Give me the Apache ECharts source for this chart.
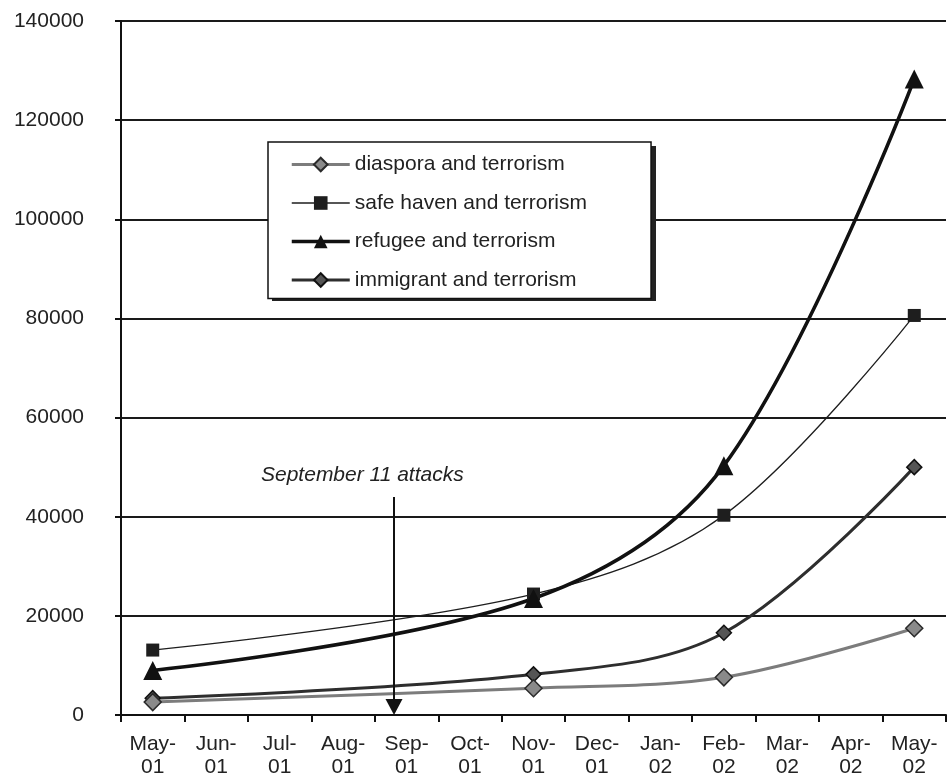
<!DOCTYPE html>
<html>
<head>
<meta charset="utf-8">
<script src="https://cdn.jsdelivr.net/npm/echarts@6/dist/echarts.min.js"></script>
<style>
  html, body { margin: 0; padding: 0; background: #fff; }
  #chart { width: 947px; height: 783px; }
</style>
</head>
<body>
<div id="chart"></div>
<script>
// month categories on the x axis
const months = ['May-01', 'Jun-01', 'Jul-01', 'Aug-01', 'Sep-01', 'Oct-01', 'Nov-01',
  'Dec-01', 'Jan-02', 'Feb-02', 'Mar-02', 'Apr-02', 'May-02'];

// months where counts were sampled
const sampleMonths = ['May-01', 'Nov-01', 'Feb-02', 'May-02'];

// counts per series
const diaspora = [2600, 5400, 7600, 17500];
const safeHaven = [13100, 24400, 40300, 80600];
const refugee = [9000, 23500, 50300, 128300];
const immigrant = [3400, 8200, 16600, 50000];

const FONT = 'Liberation Sans, Arial, sans-serif';

// spread the sampled values over the full month axis, gaps left null
function spread(vals) {
  return months.map(m => {
    const i = sampleMonths.indexOf(m);
    return i < 0 ? null : vals[i];
  });
}

function lineSeries(name, vals, opts) {
  return {
    name: name,
    type: 'line',
    data: spread(vals),
    connectNulls: true,
    smooth: 0.35,
    symbol: opts.symbol,
    symbolSize: opts.size,
    lineStyle: { color: opts.line, width: opts.width },
    itemStyle: {
      color: opts.fill,
      borderColor: opts.border,
      borderWidth: opts.borderWidth || 0
    },
    z: opts.z || 2
  };
}

const chart = echarts.init(document.getElementById('chart'));

// legend box geometry (shadow is drawn separately so the border is single)
const LEG = { left: 268, top: 142, width: 384, height: 155 };

const option = {
  animation: false,
  backgroundColor: '#fff',
  textStyle: { fontFamily: FONT },
  grid: { left: 121, right: 1, top: 21, bottom: 68 },
  legend: {
    orient: 'vertical',
    left: LEG.left,
    top: LEG.top,
    padding: [12, 64, 8, 22],
    itemWidth: 58,
    itemHeight: 17,
    itemGap: 17.5,
    z: 6,
    backgroundColor: '#fff',
    borderColor: '#111',
    borderWidth: 1.5,
    textStyle: { fontSize: 21, color: '#222', fontFamily: FONT },
    data: [
      { name: 'diaspora and terrorism', lineStyle: { width: 3 } },
      { name: 'safe haven and terrorism', lineStyle: { width: 1.5 } },
      { name: 'refugee and terrorism', lineStyle: { width: 3.5 } },
      { name: 'immigrant and terrorism', lineStyle: { width: 3 } }
    ]
  },
  xAxis: {
    type: 'category',
    data: months,
    boundaryGap: true,
    axisLine: { lineStyle: { color: '#111', width: 2 } },
    axisTick: { show: true, length: 7, lineStyle: { color: '#111', width: 2 } },
    axisLabel: {
      color: '#222',
      fontSize: 21,
      lineHeight: 23,
      margin: 18,
      interval: 0,
      formatter: v => v.replace('-', '-\n')
    },
    splitLine: { show: false }
  },
  yAxis: {
    type: 'value',
    min: 0,
    max: 140000,
    interval: 20000,
    axisLine: { show: true, lineStyle: { color: '#111', width: 2 } },
    axisTick: { show: true, length: 6, lineStyle: { color: '#111', width: 2 } },
    axisLabel: { color: '#222', fontSize: 21, margin: 37, formatter: v => String(v) },
    splitLine: { show: true, lineStyle: { color: '#1a1a1a', width: 1.8 } }
  },
  series: [
    lineSeries('diaspora and terrorism', diaspora, {
      symbol: 'diamond', size: 17, line: '#7c7c7c', width: 3,
      fill: '#8a8a8a', border: '#2a2a2a', borderWidth: 1.5, z: 3
    }),
    lineSeries('safe haven and terrorism', safeHaven, {
      symbol: 'rect', size: 13, line: '#1e1e1e', width: 1.3,
      fill: '#1e1e1e', border: '#111', borderWidth: 0
    }),
    lineSeries('refugee and terrorism', refugee, {
      symbol: 'triangle', size: 19, line: '#111', width: 3.5,
      fill: '#111', border: '#111', borderWidth: 0
    }),
    lineSeries('immigrant and terrorism', immigrant, {
      symbol: 'diamond', size: 15, line: '#2e2e2e', width: 3,
      fill: '#555', border: '#111', borderWidth: 1.5
    })
  ]
};

chart.setOption(option);

// September 11 annotation: arrow placed a third into the Sep-01 band
const sepCenter = chart.convertToPixel({ xAxisIndex: 0 }, 'Sep-01');
const octCenter = chart.convertToPixel({ xAxisIndex: 0 }, 'Oct-01');
const band = octCenter - sepCenter;
const ax = Math.round(sepCenter - band * 0.2);
const yTop = chart.convertToPixel({ yAxisIndex: 0 }, 44000);
const yBot = chart.convertToPixel({ yAxisIndex: 0 }, 0);
const yText = chart.convertToPixel({ yAxisIndex: 0 }, 48000);

chart.setOption({
  graphic: [
    {
      // drop shadow behind the legend box
      type: 'rect',
      shape: { x: LEG.left + 4, y: LEG.top + 4, width: LEG.width, height: LEG.height },
      style: { fill: '#222' },
      z: 5
    },
    {
      type: 'text',
      left: ax - 133,
      top: yText - 12,
      style: {
        text: 'September 11 attacks',
        font: 'italic 21px ' + FONT,
        fill: '#222'
      },
      z: 10
    },
    {
      type: 'line',
      shape: { x1: ax, y1: yTop, x2: ax, y2: yBot - 10 },
      style: { stroke: '#111', lineWidth: 2 },
      z: 10
    },
    {
      type: 'polygon',
      shape: { points: [[ax - 8.5, yBot - 16], [ax + 8.5, yBot - 16], [ax, yBot]] },
      style: { fill: '#111' },
      z: 10
    }
  ]
});
</script>
</body>
</html>
